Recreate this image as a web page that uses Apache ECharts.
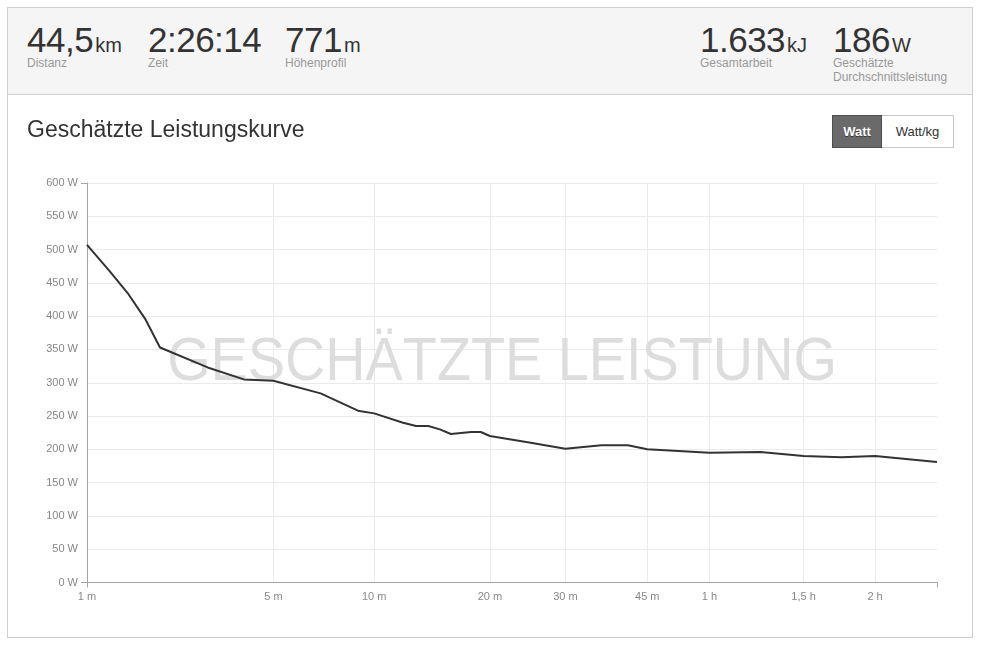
<!DOCTYPE html>
<html>
<head>
<meta charset="utf-8">
<script src="https://cdn.jsdelivr.net/npm/echarts@6/dist/echarts.min.js"></script>
<style>
  html, body { margin:0; padding:0; background:#fff; width:982px; height:650px; overflow:hidden;
    font-family: "Liberation Sans", Arial, sans-serif; }
  #panel { position:absolute; left:7px; top:7px; width:964px; height:629px; border:1px solid #cfcfcf; background:#fff; z-index:0; }
  #header { position:absolute; left:8px; top:8px; width:964px; height:86px; background:#f5f5f5; border-bottom:1px solid #cfcfcf; z-index:2; }
  .stat { position:absolute; top:0; }
  .val { position:absolute; top:14px; white-space:nowrap; color:#333; line-height:36px; }
  .num { font-size:35px; letter-spacing:-0.5px; }
  .unit { font-size:20px; margin-left:2px; }
  .lab { position:absolute; top:48px; font-size:12px; line-height:14px; color:#999; white-space:nowrap; }
  #title { position:absolute; left:27px; top:116px; font-size:23px; color:#333; z-index:2; white-space:nowrap; }
  #btns { position:absolute; left:832px; top:115px; height:33px; z-index:2; display:flex; }
  .btn { height:31px; line-height:31px; font-size:13px; text-align:center; box-sizing:content-box; }
  #b1 { width:48px; background:#6a6a6a; color:#fff; font-weight:bold; border:1px solid #4e4e4e; text-shadow:0 1px 1px #333; }
  #b2 { width:71px; background:#fff; color:#333; border:1px solid #c8c8c8; border-left:none; }
  #chart { position:absolute; left:0; top:0; width:982px; height:650px; z-index:1; }
</style>
</head>
<body>
<div id="panel"></div>
<div id="chart"></div>
<div id="header"></div>
<div id="title">Geschätzte Leistungskurve</div>
<div id="btns"><div class="btn" id="b1">Watt</div><div class="btn" id="b2">Watt/kg</div></div>
<script>
// ---- data ----
var statValues = ["44,5", "2:26:14", "771", "1.633", "186"];
var statUnits  = ["km", "", "m", "kJ", "W"];
var statLabels = ["Distanz", "Zeit", "Höhenprofil", "Gesamtarbeit", "Geschätzte<br>Durchschnittsleistung"];
var statLeft   = [19, 140, 277, 692, 825];

var durationsMin = [1, 1.25, 1.5, 1.75, 2, 3, 4, 5, 7, 9, 10, 12, 13, 14, 15, 16, 18, 19, 20, 25, 30, 36, 41, 45, 60, 75, 90, 105, 120, 152];
var watts        = [507, 468, 433, 396, 353, 323, 305, 303, 284, 258, 254, 240, 235, 235, 230, 223, 226, 226, 220, 210, 201, 206, 206, 200, 195, 196, 190, 188, 190, 181];

var tickMin    = [1, 5, 10, 20, 30, 45, 60, 90, 120];
var tickLabels = ["1 m", "5 m", "10 m", "20 m", "30 m", "45 m", "1 h", "1,5 h", "2 h"];
var axisEndMin = 152;

// ---- header ----
var hdr = document.getElementById('header');
statValues.forEach(function (v, i) {
  var d = document.createElement('div');
  d.className = 'stat';
  d.style.left = statLeft[i] + 'px';
  d.innerHTML = '<div class="val"><span class="num">' + v + '</span><span class="unit">' + statUnits[i] + '</span></div>' +
                '<div class="lab">' + statLabels[i] + '</div>';
  hdr.appendChild(d);
});

// ---- chart (power scale, exponent 0.2) ----
var EXP = 0.2;
function tx(m) { return Math.pow(m, EXP); }
var xMin = tx(1), xMax = tx(axisEndMin);
var tickPos = tickMin.map(tx);
var seriesData = durationsMin.map(function (m, i) { return [tx(m), watts[i]]; });

function labelFor(v) {
  for (var i = 0; i < tickPos.length; i++) {
    if (Math.abs(tickPos[i] - v) < 1e-6) return tickLabels[i];
  }
  return '';
}

var chart = echarts.init(document.getElementById('chart'), null, { renderer: 'canvas' });
var axisCol = '#a5a5a5', gridCol = '#ebebeb', labCol = '#888';
chart.setOption({
  animation: false,
  backgroundColor: 'transparent',
  grid: { left: 87, right: 45, top: 183, bottom: 67.5, containLabel: false },
  graphic: [{
    type: 'text', x: 502, y: 363, scaleX: 0.9, z: 1, silent: true,
    style: { text: 'GESCHÄTZTE LEISTUNG', fontSize: 62, fontFamily: 'Liberation Sans', fill: '#dddddd',
             align: 'center', verticalAlign: 'middle' }
  }],
  xAxis: [{
    type: 'value', min: xMin, max: xMax, position: 'bottom',
    axisLine: { show: false },
    axisTick: { show: false, customValues: tickPos },
    axisLabel: { customValues: tickPos, formatter: labelFor, color: labCol, fontSize: 11, margin: 9,
                 fontFamily: 'Liberation Sans' },
    splitLine: { show: true, lineStyle: { color: gridCol, width: 1 } }
  }, {
    type: 'value', min: xMin, max: xMax, position: 'bottom',
    axisLine: { show: true, lineStyle: { color: axisCol, width: 1 } },
    axisTick: { show: true, customValues: [xMin, xMax], length: 5, lineStyle: { color: axisCol } },
    axisLabel: { show: false },
    splitLine: { show: false }
  }],
  yAxis: [{
    type: 'value', min: 0, max: 600, interval: 50,
    axisLine: { show: false },
    axisTick: { show: false },
    axisLabel: { formatter: '{value} W', color: labCol, fontSize: 11, margin: 9, fontFamily: 'Liberation Sans' },
    splitLine: { show: true, lineStyle: { color: gridCol, width: 1 } }
  }, {
    type: 'value', min: 0, max: 600, position: 'left',
    axisLine: { show: true, lineStyle: { color: axisCol, width: 1 } },
    axisTick: { show: true, customValues: [0, 600], length: 6, lineStyle: { color: axisCol } },
    axisLabel: { show: false },
    splitLine: { show: false }
  }],
  series: [{
    type: 'line', xAxisIndex: 0, yAxisIndex: 0, data: seriesData,
    showSymbol: false, symbol: 'none', smooth: false, z: 5,
    lineStyle: { color: '#333', width: 2 }
  }]
});
</script>
</body>
</html>
